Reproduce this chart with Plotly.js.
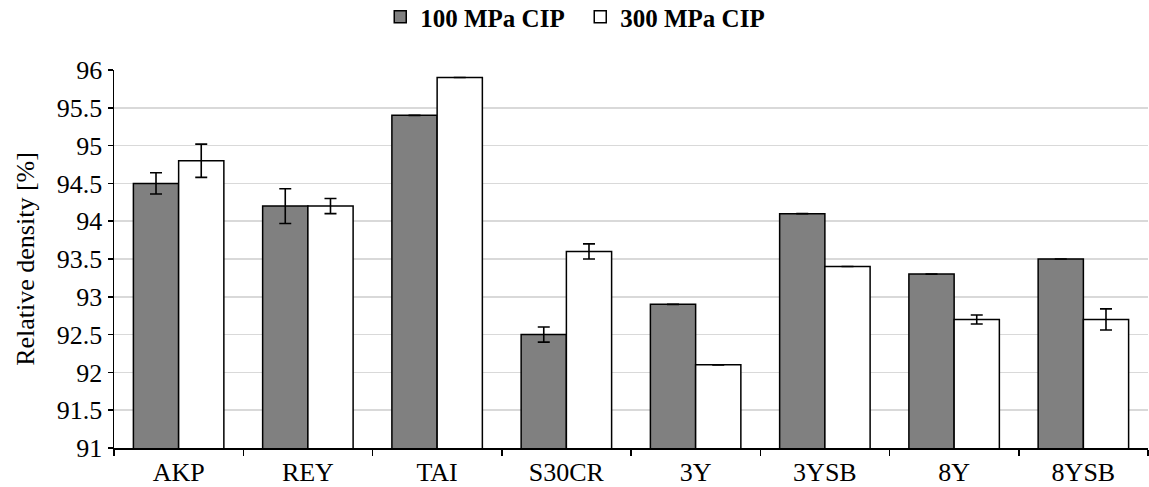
<!DOCTYPE html>
<html><head><meta charset="utf-8">
<script src="https://cdn.plot.ly/plotly-3.0.1.min.js"></script>
<style>body{margin:0;background:#fff}#c{width:1149px;height:487px}</style>
</head><body><div id="c"></div>
<script>
const categories = ["AKP","REY","TAI","S30CR","3Y","3YSB","8Y","8YSB"];
const cip100 = [94.5, 94.2, 95.4, 92.5, 92.9, 94.1, 93.3, 93.5];
const cip100Err = [0.14, 0.23, 0, 0.1, 0, 0, 0, 0];
const cip300 = [94.8, 94.2, 95.9, 93.6, 92.1, 93.4, 92.7, 92.7];
const cip300Err = [0.22, 0.1, 0, 0.1, 0, 0, 0.06, 0.14];
const font = "Times New Roman";
const errStyle = {type:"data", visible:true, color:"#000", thickness:1.6, width:6};
const traces = [
  {type:"bar", name:"100 MPa CIP", x:categories, y:cip100,
   error_y:Object.assign({array:cip100Err}, errStyle),
   marker:{color:"#808080", line:{color:"#000", width:1.5}}},
  {type:"bar", name:"300 MPa CIP", x:categories, y:cip300,
   error_y:Object.assign({array:cip300Err}, errStyle),
   marker:{color:"#ffffff", line:{color:"#000", width:1.5}}}
];
const layout = {
  width:1149, height:487,
  margin:{l:114, r:1, t:70, b:39, autoexpand:false},
  paper_bgcolor:"#fff", plot_bgcolor:"#fff",
  font:{family:font, color:"#000", size:25},
  barmode:"group", bargap:0.3, bargroupgap:0,
  showlegend:true,
  legend:{orientation:"h", xref:"container", yref:"container", x:0.505, xanchor:"center",
          y:0.965, yanchor:"middle", entrywidth:155, entrywidthmode:"pixels",
          font:{family:font, size:25, weight:"bold"}, itemwidth:30, traceorder:"normal"},
  xaxis:{type:"category", showline:true, linecolor:"#000", linewidth:1.5,
         ticks:"outside", tickson:"boundaries", ticklen:6, tickcolor:"#000", tickwidth:1.5,
         showgrid:false, tickfont:{family:font, size:26}},
  yaxis:{range:[91,96], dtick:0.5, showline:true, linecolor:"#000", linewidth:1.5,
         ticks:"outside", ticklen:5, tickcolor:"#000", tickwidth:1.5,
         showgrid:true, gridcolor:"#d9d9d9", gridwidth:1.5, zeroline:false,
         tickfont:{family:font, size:26},
         title:{text:"Relative density [%]", font:{family:font, size:26}, standoff:14}}
};
Plotly.newPlot("c", traces, layout, {displayModeBar:false, staticPlot:true});
</script></body></html>
